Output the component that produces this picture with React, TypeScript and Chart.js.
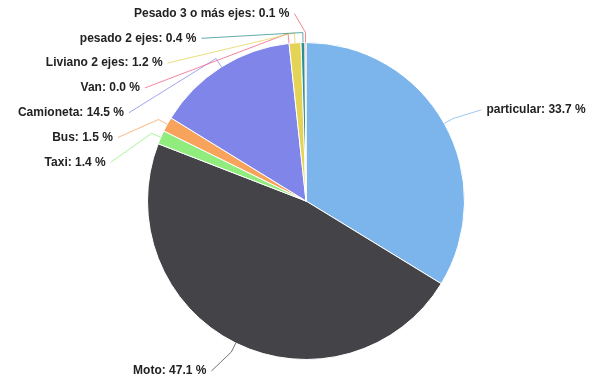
import React, { useEffect, useRef } from 'react';
import { Chart, registerables } from 'chart.js';

Chart.register(...registerables);

const categories = [
  'particular',
  'Moto',
  'Taxi',
  'Bus',
  'Camioneta',
  'Van',
  'Liviano 2 ejes',
  'pesado 2 ejes',
  'Pesado 3 o más ejes',
];
const percentages = [33.7, 47.1, 1.4, 1.5, 14.5, 0.0, 1.2, 0.4, 0.1];
const colors = [
  '#7cb5ec',
  '#434348',
  '#90ed7d',
  '#f7a35c',
  '#8085e9',
  '#f15c80',
  '#e4d354',
  '#2b908f',
  '#f45b5b',
];

const pieLabels = {
  id: 'pieLabels',
  afterDraw(chart: any) {
    const ctx = chart.ctx as CanvasRenderingContext2D;
    const meta = chart.getDatasetMeta(0);
    const arcs = meta.data as any[];
    if (!arcs.length) return;
    const cx = arcs[0].x;
    const cy = arcs[0].y;
    const r = arcs[0].outerRadius;
    const dist = 30;
    const R = r + dist;
    const spacing = 24.8;
    const items = arcs.map((arc: any, i: number) => {
      const a = (arc.startAngle + arc.endAngle) / 2;
      const cos = Math.cos(a);
      const sin = Math.sin(a);
      return { i, cos, sin, left: cos < 0, natY: cy + sin * R, y: 0, x: 0 };
    });
    for (const side of [true, false]) {
      const group = items.filter((it) => it.left === side).sort((p, q) => p.natY - q.natY);
      let prev = -Infinity;
      for (const it of group) {
        it.y = Math.max(it.natY, cy - R, prev + spacing);
        prev = it.y;
      }
      let next = Infinity;
      for (let k = group.length - 1; k >= 0; k--) {
        const it = group[k];
        it.y = Math.min(it.y, cy + R, next - spacing);
        next = it.y;
      }
      for (const it of group) {
        const dy = Math.max(-1, Math.min(1, (it.y - cy) / R));
        it.x = cx + (side ? -1 : 1) * Math.cos(Math.asin(dy)) * R;
      }
    }
    ctx.save();
    for (const it of items) {
      const sgn = it.left ? -1 : 1;
      const ex = cx + it.cos * r;
      const ey = cy + it.sin * r;
      const bx = cx + it.cos * (r + 10);
      const by = cy + it.sin * (r + 10);
      ctx.beginPath();
      ctx.moveTo(it.x + sgn * 11, it.y + 1);
      ctx.lineTo(bx, by);
      ctx.lineTo(ex, ey);
      ctx.strokeStyle = colors[it.i];
      ctx.globalAlpha = 0.75;
      ctx.lineWidth = 1;
      ctx.stroke();
    }
    ctx.globalAlpha = 1;
    ctx.font = 'bold 12px "Liberation Sans", Arial, sans-serif';
    ctx.textBaseline = 'middle';
    for (const it of items) {
      const sgn = it.left ? -1 : 1;
      const text = `${categories[it.i]}: ${percentages[it.i].toFixed(1)} %`;
      ctx.textAlign = it.left ? 'right' : 'left';
      const tx = it.x + sgn * 16;
      const ty = it.y + 1;
      ctx.lineWidth = 2;
      ctx.strokeStyle = '#ffffff';
      ctx.lineJoin = 'round';
      ctx.strokeText(text, tx, ty);
      ctx.fillStyle = '#222222';
      ctx.fillText(text, tx, ty);
    }
    ctx.restore();
  },
};

export default function App() {
  const ref = useRef<HTMLCanvasElement>(null);
  useEffect(() => {
    document.body.style.margin = '0';
    const chart = new Chart(ref.current as HTMLCanvasElement, {
      type: 'pie',
      data: {
        labels: categories,
        datasets: [
          {
            data: percentages,
            backgroundColor: colors,
            borderColor: '#ffffff',
            borderWidth: 1,
          },
        ],
      },
      options: {
        responsive: true,
        maintainAspectRatio: false,
        animation: false,
        layout: { padding: { top: 42, bottom: 28, left: 20, right: 0 } },
        plugins: {
          legend: { display: false },
          tooltip: { enabled: false },
        },
      },
      plugins: [pieLabels],
    });
    return () => chart.destroy();
  }, []);
  return (
    <div style={{ position: 'relative', width: 592, height: 388 }}>
      <canvas ref={ref} />
    </div>
  );
}
